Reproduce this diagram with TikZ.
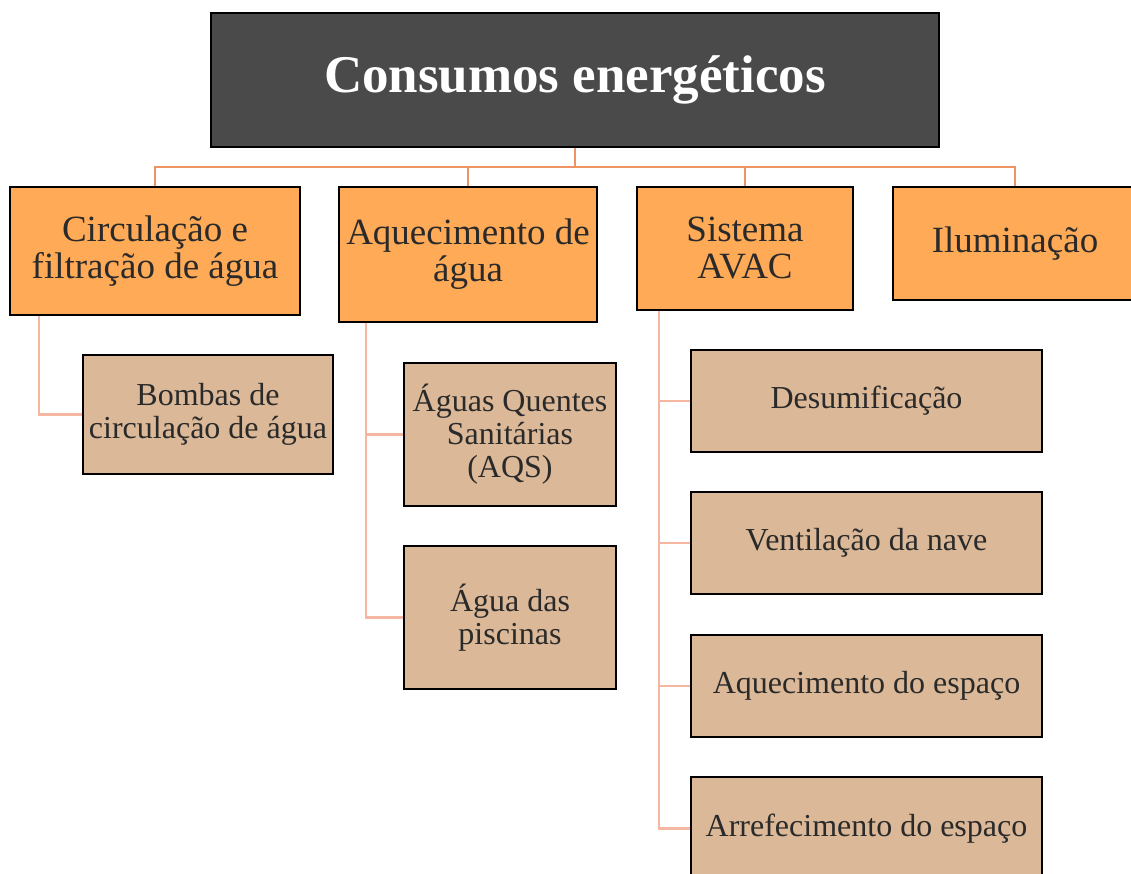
\documentclass[tikz,border=0pt]{standalone}
\usepackage{fontspec}
\setmainfont{Liberation Serif}
\usetikzlibrary{backgrounds}
\definecolor{titlefill}{HTML}{4A4A4A}
\definecolor{orangefill}{HTML}{FFAA57}
\definecolor{tanfill}{HTML}{DBB897}
\definecolor{lineA}{HTML}{EE9363}
\definecolor{lineB}{HTML}{F5B7A1}
\definecolor{txt}{HTML}{2A2A2A}
\begin{document}
\begin{tikzpicture}[x=1pt,y=-1pt,
  box/.style={draw=black, line width=2.5pt, inner sep=0pt, outer sep=0pt, align=center, text=txt},
  topbox/.style={box, fill=titlefill, text=white, font=\fontsize{53}{56}\selectfont\bfseries},
  lone/.style={box, fill=orangefill, font=\fontsize{37}{37}\selectfont},
  ltwo/.style={box, fill=tanfill, font=\fontsize{32}{33}\selectfont},
  conA/.style={draw=lineA, line width=2.5pt},
  conB/.style={draw=lineB, line width=2.5pt}]
\useasboundingbox (0,0) rectangle (1131,873);
\clip (0,0) rectangle (1131,873);
% title
\node[topbox, minimum width=728, minimum height=134] (title) at (575,80) {Consumos energéticos};
% level 1
\node[lone, minimum width=290, minimum height=128] (circ) at (155,251) {Circulação e\\filtração de água};
\node[lone, minimum width=258, minimum height=135] (aquec) at (468,254.5) {Aquecimento de\\água};
\node[lone, minimum width=216, minimum height=123] (avac) at (745,248.5) {Sistema\\AVAC};
\node[lone, minimum width=244, minimum height=113] (ilum) at (1015,243.5) {Iluminação};
% level 2
\node[ltwo, minimum width=250, minimum height=119] (bombas) at (208,414.5) {Bombas de\\circulação de água};
\node[ltwo, minimum width=212, minimum height=143] (aqs) at (510,434.5) {Águas Quentes\\Sanitárias\\(AQS)};
\node[ltwo, minimum width=212, minimum height=143] (pisc) at (510,617.5) {Água das\\piscinas};
\node[ltwo, minimum width=351, minimum height=102] (desum) at (866.5,401) {Desumificação};
\node[ltwo, minimum width=351, minimum height=102] (vent) at (866.5,543) {Ventilação da nave};
\node[ltwo, minimum width=351, minimum height=102] (aqesp) at (866.5,686) {Aquecimento do espaço};
\node[ltwo, minimum width=351, minimum height=103] (arref) at (866.5,828.5) {Arrefecimento do espaço};
% connectors
\coordinate (hb) at (575,167);
\begin{scope}[on background layer]
\draw[conA] (title.south) -- (hb);
\draw[conA] (circ.north) |- (hb);
\draw[conA] (ilum.north) |- (hb);
\draw[conA] (aquec.north) -- (aquec.north |- hb);
\draw[conA] (avac.north) -- (avac.north |- hb);
\draw[conB] ([xshift=29pt]circ.south west) |- (bombas.west);
\draw[conB] ([xshift=27pt]aquec.south west) |- (aqs.west);
\draw[conB] ([xshift=27pt]aquec.south west) |- (pisc.west);
\draw[conB] ([xshift=22pt]avac.south west) |- (desum.west);
\draw[conB] ([xshift=22pt]avac.south west) |- (vent.west);
\draw[conB] ([xshift=22pt]avac.south west) |- (aqesp.west);
\draw[conB] ([xshift=22pt]avac.south west) |- (arref.west);
\end{scope}
\end{tikzpicture}
\end{document}
